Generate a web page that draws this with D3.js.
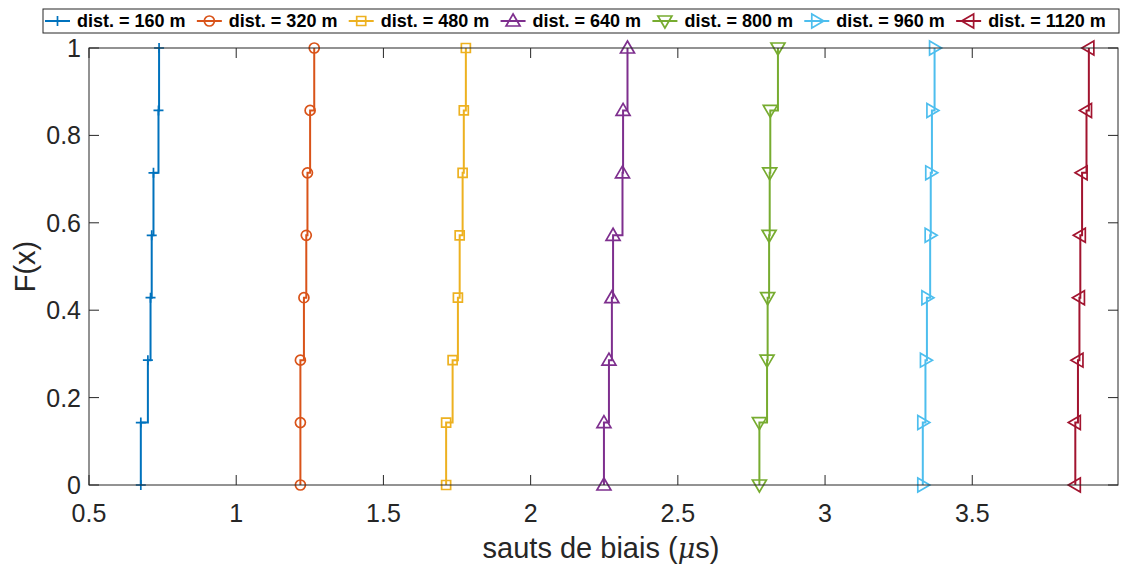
<!DOCTYPE html>
<html>
<head>
<meta charset="utf-8">
<script src="https://cdn.jsdelivr.net/npm/d3@7"></script>
<style>
  body { margin: 0; background: #fff; }
  text { font-family: "Liberation Sans", Arial, sans-serif; }
</style>
</head>
<body>
<svg id="chart" width="1123" height="566"></svg>
<script>
// <--Data--> //
const seriesNames = ["dist. = 160 m", "dist. = 320 m", "dist. = 480 m", "dist. = 640 m",
                     "dist. = 800 m", "dist. = 960 m", "dist. = 1120 m"];
const colors = ["#0072BD", "#D95319", "#EDB120", "#7E2F8E", "#77AC30", "#4DBEEE", "#A2142F"];
const markers = ["plus", "circle", "square", "up", "down", "right", "left"];

// sorted samples (bias jumps, µs) for each distance
const d160  = [0.676, 0.700, 0.709, 0.713, 0.719, 0.736, 0.738];
const d320  = [1.218, 1.218, 1.230, 1.238, 1.242, 1.251, 1.265];
const d480  = [1.713, 1.735, 1.753, 1.759, 1.769, 1.773, 1.780];
const d640  = [2.249, 2.266, 2.276, 2.280, 2.312, 2.314, 2.329];
const d800  = [2.777, 2.803, 2.805, 2.810, 2.812, 2.814, 2.840];
const d960  = [3.332, 3.341, 3.346, 3.357, 3.359, 3.363, 3.372];
const d1120 = [3.850, 3.859, 3.864, 3.867, 3.873, 3.888, 3.896];
const samples = [d160, d320, d480, d640, d800, d960, d1120];

const xTicks = [0.5, 1, 1.5, 2, 2.5, 3, 3.5];
const yTicks = [0, 0.2, 0.4, 0.6, 0.8, 1];

// <--Layout--> //
const svg = d3.select("#chart");
const pL = 89, pR = 1118, pT = 48, pB = 485;
const axisColor = "#262626";

const x = d3.scaleLinear().domain([0.5, 3.995]).range([pL, pR]);
const y = d3.scaleLinear().domain([0, 1]).range([pB, pT]);

// ecdf points: (x1,0), (x1,1/n), (x2,2/n) ... (xn,1)
function ecdf(vals) {
  const n = vals.length;
  const pts = [[vals[0], 0]];
  vals.forEach((v, i) => pts.push([v, (i + 1) / n]));
  return pts;
}

// marker shapes
function markerPath(type) {
  switch (type) {
    case "plus":   return "M-5,0H5M0,-5V5";
    case "circle": return "M5,0A5,5 0 1,1 -5,0A5,5 0 1,1 5,0Z";
    case "square": return "M-4.5,-4.5H4.5V4.5H-4.5Z";
    case "up":     return "M0,-7L7,5L-7,5Z";
    case "down":   return "M0,7L7,-5L-7,-5Z";
    case "right":  return "M7,0L-5,-7L-5,7Z";
    case "left":   return "M-7,0L5,-7L5,7Z";
  }
}

// <--Axes--> //
const g = svg.append("g");
const tickLen = 10;
xTicks.forEach(t => {
  g.append("line").attr("x1", x(t)).attr("x2", x(t)).attr("y1", pB).attr("y2", pB - tickLen)
    .attr("stroke", axisColor);
  g.append("line").attr("x1", x(t)).attr("x2", x(t)).attr("y1", pT).attr("y2", pT + tickLen)
    .attr("stroke", axisColor);
  g.append("text").attr("x", x(t)).attr("y", pB + 37)
    .attr("text-anchor", "middle").attr("font-size", 25).attr("fill", axisColor)
    .text(t);
});
yTicks.forEach(t => {
  g.append("line").attr("x1", pL).attr("x2", pL + tickLen).attr("y1", y(t)).attr("y2", y(t))
    .attr("stroke", axisColor);
  g.append("line").attr("x1", pR).attr("x2", pR - tickLen).attr("y1", y(t)).attr("y2", y(t))
    .attr("stroke", axisColor);
  g.append("text").attr("x", pL - 8).attr("y", y(t) + 9)
    .attr("text-anchor", "end").attr("font-size", 25).attr("fill", axisColor)
    .text(t);
});

// <--Series--> //
const stairs = d3.line().x(d => x(d[0])).y(d => y(d[1])).curve(d3.curveStepAfter);

samples.forEach((vals, i) => {
  const pts = ecdf(vals);
  svg.append("path").datum(pts)
    .attr("d", stairs)
    .attr("fill", "none").attr("stroke", colors[i]).attr("stroke-width", 2);
  svg.selectAll(null).data(pts).enter().append("path")
    .attr("transform", d => `translate(${x(d[0])},${y(d[1])})`)
    .attr("d", markerPath(markers[i]))
    .attr("fill", "none").attr("stroke", colors[i]).attr("stroke-width", 1.7);
});

svg.append("rect").attr("x", pL).attr("y", pT)
  .attr("width", pR - pL).attr("height", pB - pT)
  .attr("fill", "none").attr("stroke", axisColor).attr("stroke-width", 1);

// <--Labels--> //
const xl = svg.append("text").attr("x", 601).attr("y", 558)
  .attr("text-anchor", "middle").attr("font-size", 29).attr("fill", axisColor);
xl.append("tspan").text("sauts de biais (");
xl.append("tspan").attr("font-style", "italic").attr("font-family", "DejaVu Serif").attr("font-size", 27).text("μ");
xl.append("tspan").text("s)");

svg.append("text")
  .attr("transform", `translate(35,${(pT + pB) / 2}) rotate(-90)`)
  .attr("text-anchor", "middle").attr("font-size", 29).attr("fill", axisColor)
  .text("F(x)");

// <--Legend--> //
const legend = svg.append("g");
const legL = 43, legR = 1119, ly = 21;
legend.append("rect")
  .attr("x", legL).attr("y", 9).attr("width", legR - legL).attr("height", 24)
  .attr("fill", "#fff").attr("stroke", "#262626").attr("stroke-width", 1);
const items = seriesNames.map((name, i) => {
  const gi = legend.append("g");
  gi.append("line").attr("x1", 0).attr("x2", 25).attr("y1", ly).attr("y2", ly)
    .attr("stroke", colors[i]).attr("stroke-width", 2);
  gi.append("path").attr("transform", `translate(12.5,${ly})`)
    .attr("d", markerPath(markers[i]))
    .attr("fill", "none").attr("stroke", colors[i]).attr("stroke-width", 1.7);
  const t = gi.append("text").attr("x", 32).attr("y", ly + 6)
    .attr("font-size", 18).attr("font-weight", "bold").attr("fill", "#000")
    .text(name);
  return { gi, w: 32 + t.node().getComputedTextLength() };
});
const total = d3.sum(items, d => d.w);
const gap = (legR - legL - 4 - total) / items.length;
let lx = legL + 2;
items.forEach(d => {
  d.gi.attr("transform", `translate(${lx},0)`);
  lx += d.w + gap;
});
</script>
</body>
</html>
